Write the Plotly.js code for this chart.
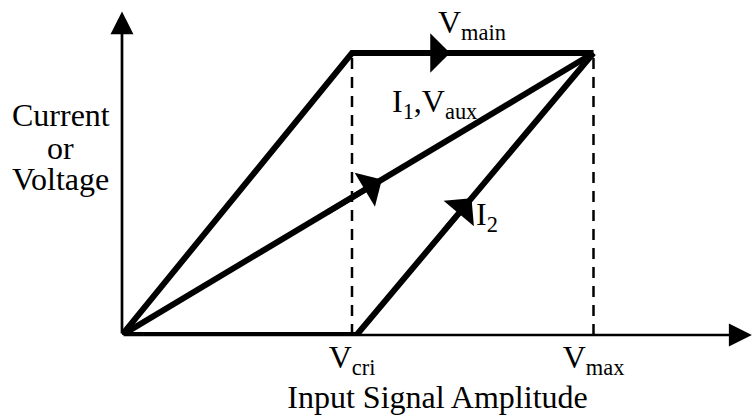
<!DOCTYPE html>
<html>
<head>
<meta charset="utf-8">
<script src="https://cdn.plot.ly/plotly-3.0.1.min.js"></script>
<style>html,body{margin:0;padding:0;background:#fff;}#chart{width:753px;height:415px;}</style>
</head>
<body>
<div id="chart"></div>
<script>
// ---- data (normalised units: V_cri = 1, top level = 1) ----
const V_CRI = 1.0;
const V_MAX = 2.05;
const I2_START = 1.02;
const TOP = 1.0;

const vmainX = [0, V_CRI, V_MAX];
const vmainY = [0, TOP, TOP];
const i1X = [0, V_MAX];
const i1Y = [0, TOP];
const i2X = [0, I2_START, V_MAX];
const i2Y = [0, 0, TOP];

const tickVals = [V_CRI, V_MAX];
const tickText = ['V<sub>cri</sub>', 'V<sub>max</sub>'];
const yLabelLines = ['Current', 'or', 'Voltage'];

// arrow position as fraction along a segment
const arrowSegs = [
  {from: [V_CRI, TOP], to: [V_MAX, TOP], t: 0.406},
  {from: [0, 0], to: [V_MAX, TOP], t: 0.551},
  {from: [I2_START, 0], to: [V_MAX, TOP], t: 0.485}
];

const X_RANGE = [0, 2.7435];
const Y_RANGE = [0, 1.1525];

const FONT = '"Liberation Serif", "Times New Roman", serif';
const BLACK = '#000000';
const FS = 32;

const traces = [
  {x: [V_CRI, V_CRI], y: [0, TOP], mode: 'lines', line: {color: BLACK, width: 2.5, dash: '11px,8px'}},
  {x: [V_MAX, V_MAX], y: [0, TOP], mode: 'lines', line: {color: BLACK, width: 2.5, dash: '11px,8px'}},
  {x: vmainX, y: vmainY, mode: 'lines', line: {color: BLACK, width: 6}},
  {x: i1X, y: i1Y, mode: 'lines', line: {color: BLACK, width: 6}},
  {x: i2X, y: i2Y, mode: 'lines', line: {color: BLACK, width: 6}}
];

const annotations = [];
// axis arrows
annotations.push({x: 0, y: Y_RANGE[1] - 0.005, ax: 0, ay: 0, xref: 'x', yref: 'y', axref: 'x', ayref: 'y',
  showarrow: true, arrowhead: 2, arrowsize: 1.7, arrowwidth: 2.7, arrowcolor: BLACK, text: ''});
annotations.push({x: X_RANGE[1] - 0.005, y: 0, ax: 0, ay: 0, xref: 'x', yref: 'y', axref: 'x', ayref: 'y',
  showarrow: true, arrowhead: 2, arrowsize: 1.7, arrowwidth: 2.7, arrowcolor: BLACK, text: ''});
// direction arrows on lines
arrowSegs.forEach(s => {
  const tx = s.from[0] + (s.to[0] - s.from[0]) * s.t;
  const ty = s.from[1] + (s.to[1] - s.from[1]) * s.t;
  const bt = s.t - 0.12;
  const bx = s.from[0] + (s.to[0] - s.from[0]) * bt;
  const by = s.from[1] + (s.to[1] - s.from[1]) * bt;
  annotations.push({x: tx, y: ty, ax: bx, ay: by, xref: 'x', yref: 'y', axref: 'x', ayref: 'y',
    showarrow: true, arrowhead: 1, arrowsize: 1.2, arrowwidth: 5.5, arrowcolor: BLACK, text: ''});
});
// text labels
const lab = (text, x, y) => ({x: x, y: y, xref: 'x', yref: 'y', text: text, showarrow: false,
  xanchor: 'center', yanchor: 'middle', font: {family: FONT, size: FS, color: BLACK}});
annotations.push(lab('V<sub>main</sub>', 1.52, 1.10));
annotations.push(lab('I<sub>1</sub>,V<sub>aux</sub>', 1.357, 0.82));
annotations.push(lab('I<sub>2</sub>', 1.587, 0.42));
const yLabPos = [0.6765, 0.575, 0.48];
yLabelLines.forEach((t, i) => {
  annotations.push({x: -0.0967, y: yLabPos[i], xref: 'paper', yref: 'paper', text: t,
    showarrow: false, xanchor: 'center', yanchor: 'middle',
    font: {family: FONT, size: FS, color: BLACK}});
});

const layout = {
  width: 753, height: 415,
  margin: {l: 122, r: 0, t: 10, b: 80, pad: 0},
  paper_bgcolor: '#ffffff', plot_bgcolor: '#ffffff',
  showlegend: false,
  font: {family: FONT, size: FS, color: BLACK},
  xaxis: {range: X_RANGE, showgrid: false, zeroline: false, showline: false,
    tickvals: tickVals, ticktext: tickText, ticks: '', ticklabelstandoff: 0,
    tickfont: {family: FONT, size: FS, color: BLACK},
    title: {text: 'Input Signal Amplitude', font: {family: FONT, size: FS, color: BLACK}, standoff: 0},
    fixedrange: true},
  yaxis: {range: Y_RANGE, showgrid: false, zeroline: false, showline: false,
    showticklabels: false, ticks: '', fixedrange: true},
  annotations: annotations
};

Plotly.newPlot('chart', traces, layout, {displayModeBar: false, staticPlot: true});
</script>
</body>
</html>
